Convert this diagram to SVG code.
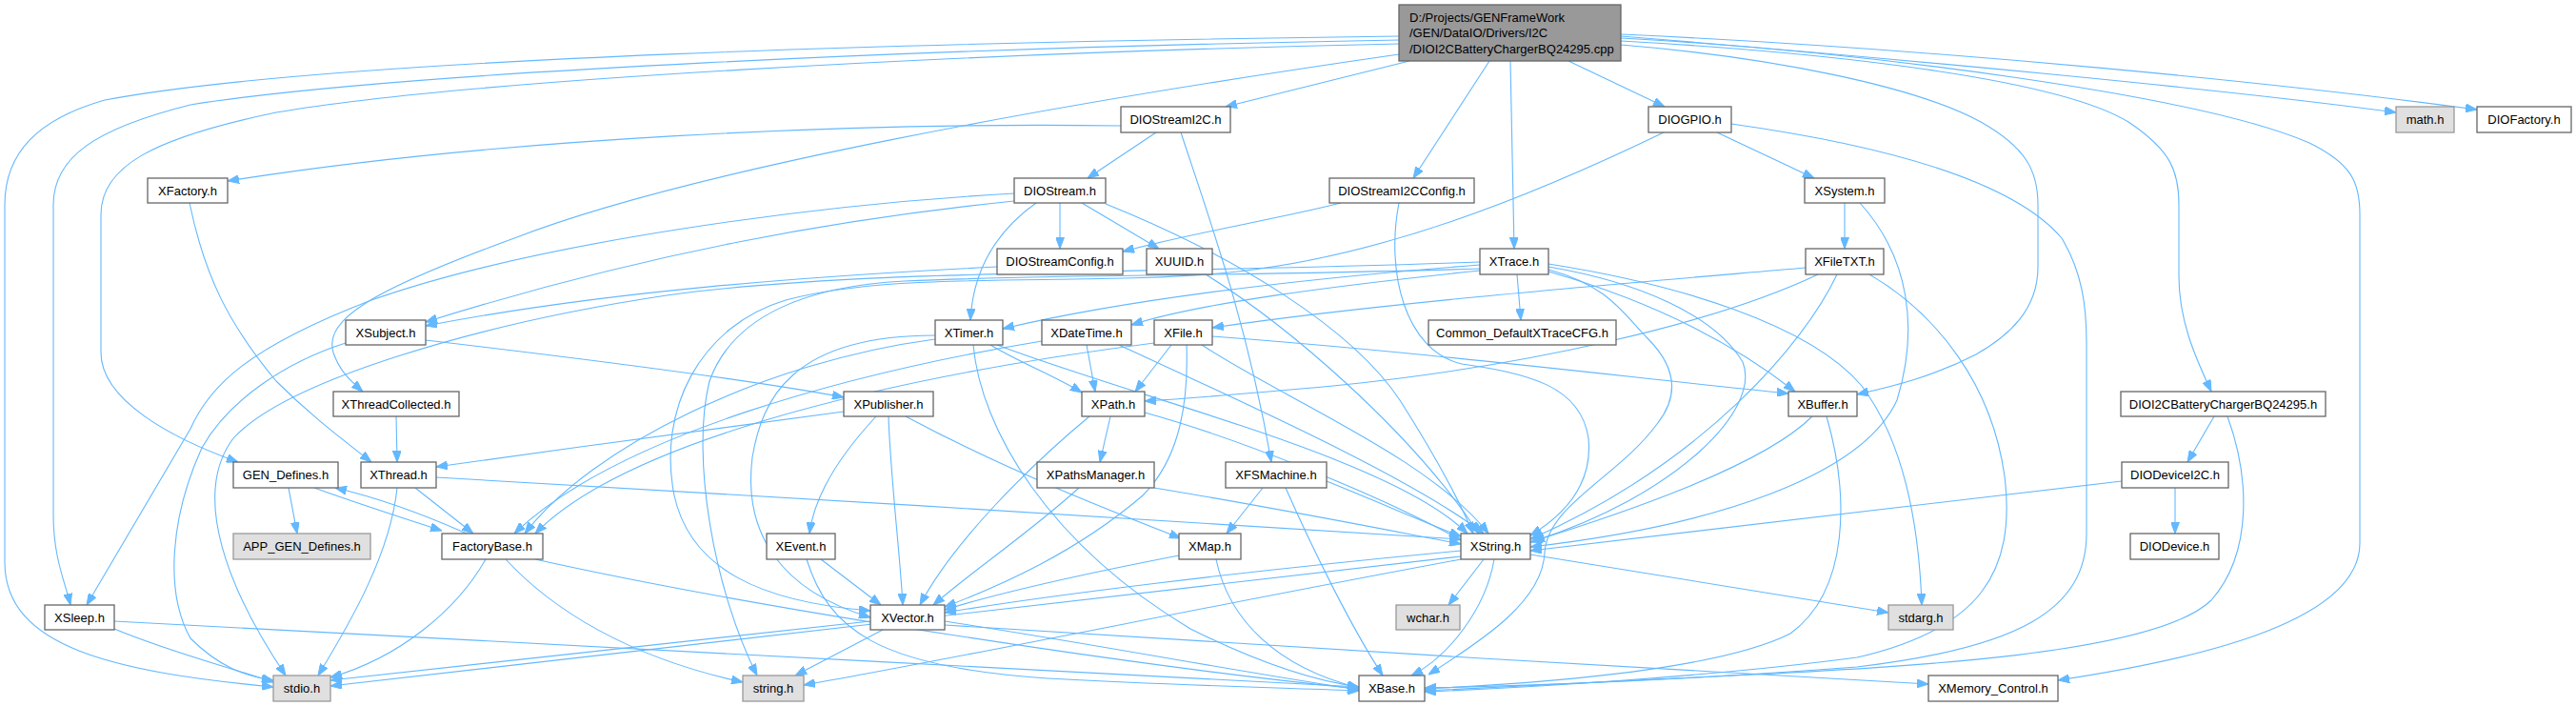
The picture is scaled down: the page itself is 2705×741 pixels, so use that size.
<svg xmlns="http://www.w3.org/2000/svg" width="2705" height="741" viewBox="0 0 2705 741">
<defs>
<marker id="ah" markerUnits="userSpaceOnUse" markerWidth="12" markerHeight="9" refX="12" refY="4.5" orient="auto"><path d="M0,0 L12,4.5 L0,9 z" fill="#63b8ff" stroke="#63b8ff"/></marker>
</defs>
<style>
.node rect{fill:#ffffff;stroke:#666666;stroke-width:1.3}
.node.ext rect{fill:#e0e0e0;stroke:#999999}
.node.root rect{fill:#999999;stroke:#666666}
.node text{font-family:"Liberation Sans",Arial,sans-serif;font-size:13px;fill:#000000;text-anchor:middle}
.node.root text{text-anchor:start}
#edges path{fill:none;stroke:#63b8ff;stroke-width:1.1;marker-end:url(#ah)}
</style>
<rect width="2705" height="741" fill="#ffffff"/>
<g id="edges">
<path d="M1469,38 C1000,44 350,60 110,105 C40,125 5,160 5,215 L5,590 C5,680 120,705 287,721"/>
<path d="M1469,42 C1000,50 420,75 200,110 C100,135 56,165 56,215 L56,540 C56,585 68,610 74,635"/>
<path d="M1469,46 C1000,56 480,85 290,118 C160,145 106,175 106,225 L106,370 C106,420 180,460 250,485"/>
<path d="M1469,57 C1100,110 720,180 540,250 C390,305 340,335 350,370 C356,388 366,398 381,411"/>
<path d="M1480,64 L1287,112"/>
<path d="M1564,64 L1484,187"/>
<path d="M1586,64 L1590,261"/>
<path d="M1647,64 L1748,112"/>
<path d="M1702,47 C1860,60 2010,90 2080,128 C2128,155 2140,180 2140,215 L2140,280 C2140,325 2110,352 2075,372 C2030,395 1990,405 1950,414"/>
<path d="M1702,43 C1920,55 2160,82 2235,128 C2280,158 2288,180 2288,215 L2288,290 C2288,340 2308,380 2322,411"/>
<path d="M1702,40 C1960,54 2310,100 2425,150 C2470,172 2478,192 2478,225 L2478,570 C2478,650 2320,690 2161,714"/>
<path d="M1702,38 C2000,62 2340,94 2516,118"/>
<path d="M1702,36 C2050,52 2400,88 2601,115"/>
<path d="M1177,132 C900,128 520,145 239,190"/>
<path d="M1214,139 L1142,187"/>
<path d="M1240,139 C1270,230 1310,340 1335,485"/>
<path d="M1113,213 L1113,261"/>
<path d="M1136,213 L1217,261"/>
<path d="M1088,213 C1050,240 1022,280 1019,336"/>
<path d="M1065,203 C850,215 560,255 390,315 C260,365 220,405 200,450 L91,635"/>
<path d="M1065,211 C880,230 680,265 447,338"/>
<path d="M1161,214 C1300,270 1420,345 1470,420 C1505,475 1530,520 1547,560"/>
<path d="M1047,280 C850,290 640,305 447,342"/>
<path d="M1408,213 C1350,228 1250,245 1179,264"/>
<path d="M1469,213 C1455,285 1475,368 1535,382 C1605,392 1660,405 1668,460 C1673,510 1640,542 1607,562"/>
<path d="M1803,139 L1905,187"/>
<path d="M1818,130 C1960,150 2110,185 2165,250 C2186,285 2191,320 2191,360 L2191,560 C2191,640 2120,680 1950,700 C1750,715 1600,720 1496,722"/>
<path d="M1747,139 C1600,210 1450,268 1300,285 C1140,302 950,282 825,315 C735,342 690,430 708,520 C725,598 800,632 914,641"/>
<path d="M1937,213 L1937,261"/>
<path d="M1953,213 C2005,270 2015,345 1992,420 C1955,500 1800,552 1607,574"/>
<path d="M1896,281 C1700,298 1450,318 1273,344"/>
<path d="M1909,288 C1800,340 1600,385 1400,405 C1300,414 1250,418 1202,421"/>
<path d="M1929,288 C1895,360 1790,485 1607,566"/>
<path d="M1963,288 C2035,330 2092,405 2105,500 C2117,600 2080,660 1950,690 C1800,710 1600,722 1496,726"/>
<path d="M1593,288 L1597,336"/>
<path d="M1554,278 C1400,290 1200,310 1053,345"/>
<path d="M1554,284 C1400,300 1260,318 1188,341"/>
<path d="M1554,275 C1200,288 900,282 700,310 C500,340 300,400 245,460 C200,520 240,620 300,709"/>
<path d="M1626,285 C1720,312 1810,352 1885,411"/>
<path d="M1626,280 C1720,296 1800,330 1830,380 C1850,430 1760,520 1610,568"/>
<path d="M1626,277 C1760,298 1900,340 1955,405 C2000,465 2015,550 2018,635"/>
<path d="M1626,283 C1690,300 1705,330 1730,355 C1765,390 1760,420 1740,445 C1700,500 1625,530 1622,580 C1620,630 1560,670 1500,708"/>
<path d="M1554,282 C1300,290 1100,288 950,295 C850,300 770,330 745,400 C725,480 750,620 795,709"/>
<path d="M199,213 C215,290 240,340 290,400 C330,440 365,465 390,485"/>
<path d="M416,437 L417,485"/>
<path d="M447,357 C600,375 780,397 886,417"/>
<path d="M363,360 C300,380 240,420 212,470 C180,540 172,620 200,670 C230,700 258,710 287,714"/>
<path d="M1266,288 C1350,340 1480,450 1553,560"/>
<path d="M1040,362 C1070,380 1110,396 1136,412"/>
<path d="M1047,362 C1200,420 1460,480 1541,560"/>
<path d="M1022,362 C1030,450 1100,570 1250,660 C1330,700 1390,716 1427,721"/>
<path d="M982,356 C800,380 620,470 551,560"/>
<path d="M982,352 C830,352 800,420 790,480 C780,560 820,620 914,648"/>
<path d="M1141,362 L1150,411"/>
<path d="M1094,358 C900,390 650,455 540,560"/>
<path d="M1175,362 C1300,420 1480,500 1558,560"/>
<path d="M1230,362 L1192,411"/>
<path d="M1273,353 C1500,370 1700,395 1878,413"/>
<path d="M1246,362 C1248,420 1240,480 1200,520 C1130,580 1050,615 992,637"/>
<path d="M1212,360 C900,400 650,470 562,560"/>
<path d="M1262,362 C1350,420 1500,480 1563,560"/>
<path d="M886,432 C750,450 600,470 458,490"/>
<path d="M920,437 C880,480 855,520 850,560"/>
<path d="M933,437 C935,500 945,580 948,635"/>
<path d="M951,437 C1050,490 1150,530 1240,565"/>
<path d="M1166,437 L1155,485"/>
<path d="M1144,437 C1080,490 1000,570 966,635"/>
<path d="M1202,433 C1300,460 1450,520 1534,567"/>
<path d="M1133,512 C1080,560 1020,600 980,635"/>
<path d="M1212,512 C1350,535 1450,555 1534,571"/>
<path d="M1326,512 L1288,560"/>
<path d="M1350,512 C1380,580 1420,660 1452,709"/>
<path d="M1393,505 C1450,528 1500,550 1534,563"/>
<path d="M1238,583 C1150,600 1050,622 992,640"/>
<path d="M1277,587 C1290,650 1340,700 1427,722"/>
<path d="M862,587 L925,635"/>
<path d="M847,587 C870,660 920,700 1100,712 C1250,720 1350,722 1427,725"/>
<path d="M992,652 C1150,676 1300,705 1427,724"/>
<path d="M992,656 C1300,676 1700,700 2025,718"/>
<path d="M927,661 L835,709"/>
<path d="M914,652 C700,676 500,697 347,714"/>
<path d="M1534,578 C1300,600 1100,625 992,643"/>
<path d="M1569,587 C1560,640 1520,690 1482,709"/>
<path d="M1558,587 L1521,635"/>
<path d="M1607,582 L1983,643"/>
<path d="M1534,584 C1200,620 700,682 347,720"/>
<path d="M1534,587 C1300,630 1000,692 844,719"/>
<path d="M1903,437 C1850,490 1700,540 1607,569"/>
<path d="M1918,437 C1942,520 1942,620 1880,665 C1800,705 1600,718 1496,723"/>
<path d="M2325,437 L2297,485"/>
<path d="M2339,437 C2362,500 2366,580 2322,630 C2262,688 2000,700 1800,710 C1650,717 1550,722 1496,725"/>
<path d="M2284,512 L2284,560"/>
<path d="M2228,505 C2000,530 1800,555 1607,578"/>
<path d="M303,512 L312,560"/>
<path d="M330,512 C380,530 430,546 464,557"/>
<path d="M490,560 C445,540 395,522 352,512"/>
<path d="M510,587 C480,640 420,690 347,711"/>
<path d="M531,587 C580,640 660,690 780,716"/>
<path d="M562,587 C800,640 1200,700 1427,723"/>
<path d="M120,660 C180,685 240,700 287,716"/>
<path d="M120,652 C500,670 1000,700 1427,721"/>
<path d="M436,512 L497,560"/>
<path d="M417,512 C410,580 370,650 334,709"/>
<path d="M458,501 C800,520 1200,545 1534,566"/>
</g>
<g id="node-main" class="node root"><rect x="1469" y="5" width="233" height="59"/><text x="1480" y="23">D:/Projects/GENFrameWork</text><text x="1480" y="39">/GEN/DataIO/Drivers/I2C</text><text x="1480" y="56">/DIOI2CBatteryChargerBQ24295.cpp</text></g>
<g id="node-DIOStreamI2C" class="node"><rect x="1177" y="112" width="115" height="27"/><text x="1234.5" y="130">DIOStreamI2C.h</text></g>
<g id="node-DIOGPIO" class="node"><rect x="1731" y="112" width="87" height="27"/><text x="1774.5" y="130">DIOGPIO.h</text></g>
<g id="node-math" class="node ext"><rect x="2516" y="112" width="61" height="27"/><text x="2546.5" y="130">math.h</text></g>
<g id="node-DIOFactory" class="node"><rect x="2601" y="112" width="99" height="27"/><text x="2650.5" y="130">DIOFactory.h</text></g>
<g id="node-XFactory" class="node"><rect x="155" y="187" width="84" height="26"/><text x="197" y="205">XFactory.h</text></g>
<g id="node-DIOStream" class="node"><rect x="1065" y="187" width="96" height="26"/><text x="1113" y="205">DIOStream.h</text></g>
<g id="node-DIOStreamI2CConfig" class="node"><rect x="1396" y="187" width="152" height="26"/><text x="1472" y="205">DIOStreamI2CConfig.h</text></g>
<g id="node-XSystem" class="node"><rect x="1895" y="187" width="84" height="26"/><text x="1937" y="205">XSystem.h</text></g>
<g id="node-DIOStreamConfig" class="node"><rect x="1047" y="261" width="132" height="27"/><text x="1113" y="279">DIOStreamConfig.h</text></g>
<g id="node-XUUID" class="node"><rect x="1204" y="261" width="69" height="27"/><text x="1238.5" y="279">XUUID.h</text></g>
<g id="node-XTrace" class="node"><rect x="1554" y="261" width="72" height="27"/><text x="1590" y="279">XTrace.h</text></g>
<g id="node-XFileTXT" class="node"><rect x="1896" y="261" width="82" height="27"/><text x="1937" y="279">XFileTXT.h</text></g>
<g id="node-XSubject" class="node"><rect x="363" y="336" width="84" height="26"/><text x="405" y="354">XSubject.h</text></g>
<g id="node-XTimer" class="node"><rect x="982" y="336" width="71" height="26"/><text x="1017.5" y="354">XTimer.h</text></g>
<g id="node-XDateTime" class="node"><rect x="1094" y="336" width="94" height="26"/><text x="1141" y="354">XDateTime.h</text></g>
<g id="node-XFile" class="node"><rect x="1212" y="336" width="61" height="26"/><text x="1242.5" y="354">XFile.h</text></g>
<g id="node-Common_DefaultXTraceCFG" class="node"><rect x="1500" y="336" width="197" height="26"/><text x="1598.5" y="354">Common_DefaultXTraceCFG.h</text></g>
<g id="node-XThreadCollected" class="node"><rect x="350" y="411" width="132" height="26"/><text x="416" y="429">XThreadCollected.h</text></g>
<g id="node-XPublisher" class="node"><rect x="886" y="411" width="94" height="26"/><text x="933" y="429">XPublisher.h</text></g>
<g id="node-XPath" class="node"><rect x="1136" y="411" width="66" height="26"/><text x="1169" y="429">XPath.h</text></g>
<g id="node-XBuffer" class="node"><rect x="1878" y="411" width="72" height="26"/><text x="1914" y="429">XBuffer.h</text></g>
<g id="node-DIOI2CBatteryChargerBQ24295" class="node"><rect x="2227" y="411" width="215" height="26"/><text x="2334.5" y="429">DIOI2CBatteryChargerBQ24295.h</text></g>
<g id="node-GEN_Defines" class="node"><rect x="245" y="485" width="110" height="27"/><text x="300" y="503">GEN_Defines.h</text></g>
<g id="node-XThread" class="node"><rect x="379" y="485" width="79" height="27"/><text x="418.5" y="503">XThread.h</text></g>
<g id="node-XPathsManager" class="node"><rect x="1089" y="485" width="123" height="27"/><text x="1150.5" y="503">XPathsManager.h</text></g>
<g id="node-XFSMachine" class="node"><rect x="1287" y="485" width="106" height="27"/><text x="1340" y="503">XFSMachine.h</text></g>
<g id="node-DIODeviceI2C" class="node"><rect x="2228" y="485" width="112" height="27"/><text x="2284" y="503">DIODeviceI2C.h</text></g>
<g id="node-APP_GEN_Defines" class="node ext"><rect x="245" y="560" width="144" height="27"/><text x="317" y="578">APP_GEN_Defines.h</text></g>
<g id="node-FactoryBase" class="node"><rect x="464" y="560" width="106" height="27"/><text x="517" y="578">FactoryBase.h</text></g>
<g id="node-XEvent" class="node"><rect x="805" y="560" width="72" height="27"/><text x="841" y="578">XEvent.h</text></g>
<g id="node-XMap" class="node"><rect x="1238" y="560" width="65" height="27"/><text x="1270.5" y="578">XMap.h</text></g>
<g id="node-XString" class="node"><rect x="1534" y="560" width="73" height="27"/><text x="1570.5" y="578">XString.h</text></g>
<g id="node-DIODevice" class="node"><rect x="2237" y="560" width="93" height="27"/><text x="2283.5" y="578">DIODevice.h</text></g>
<g id="node-XSleep" class="node"><rect x="47" y="635" width="73" height="26"/><text x="83.5" y="653">XSleep.h</text></g>
<g id="node-XVector" class="node"><rect x="914" y="635" width="78" height="26"/><text x="953" y="653">XVector.h</text></g>
<g id="node-wchar" class="node ext"><rect x="1466" y="635" width="67" height="26"/><text x="1499.5" y="653">wchar.h</text></g>
<g id="node-stdarg" class="node ext"><rect x="1983" y="635" width="68" height="26"/><text x="2017" y="653">stdarg.h</text></g>
<g id="node-stdio" class="node ext"><rect x="287" y="709" width="60" height="27"/><text x="317" y="727">stdio.h</text></g>
<g id="node-string" class="node ext"><rect x="780" y="709" width="64" height="27"/><text x="812" y="727">string.h</text></g>
<g id="node-XBase" class="node"><rect x="1427" y="709" width="69" height="27"/><text x="1461.5" y="727">XBase.h</text></g>
<g id="node-XMemory_Control" class="node"><rect x="2025" y="709" width="136" height="27"/><text x="2093" y="727">XMemory_Control.h</text></g>
</svg>
